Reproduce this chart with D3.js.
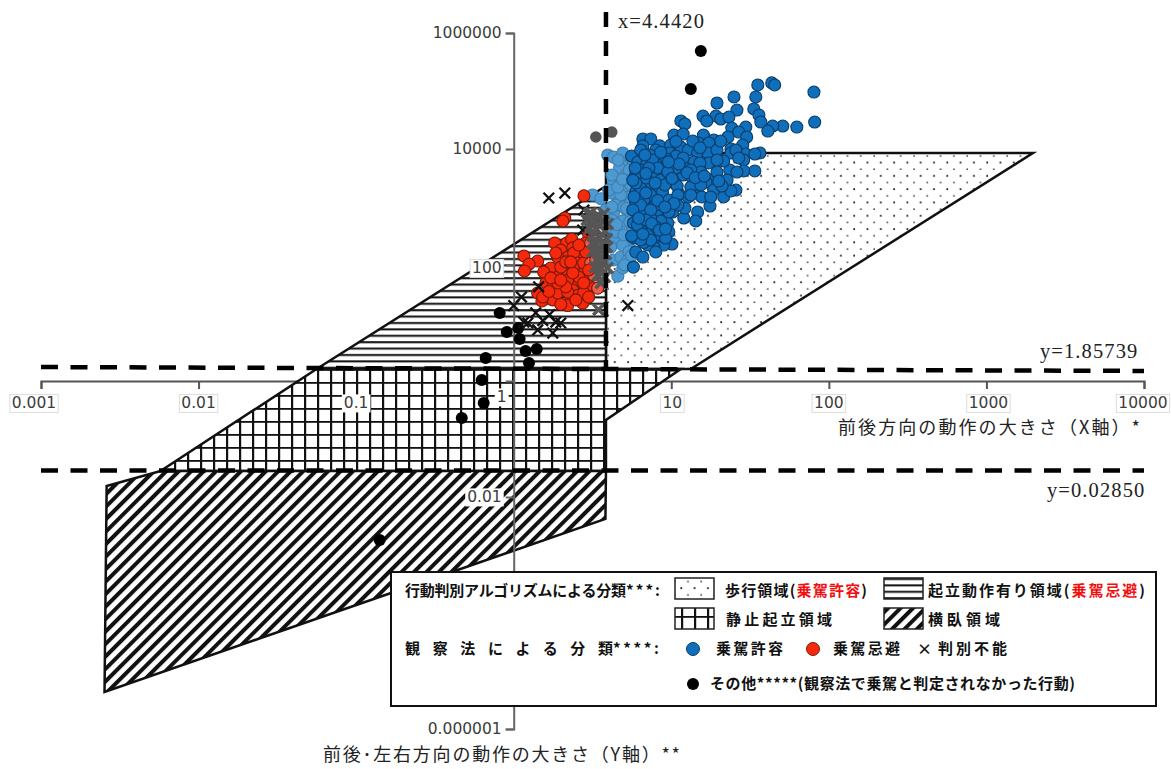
<!DOCTYPE html>
<html>
<head>
<meta charset="utf-8">
<script src="https://cdn.jsdelivr.net/npm/d3@7"></script>
<style>
body { margin: 0; background: #fff; }
text { font-family: "DejaVu Sans", sans-serif; }
.ja { font-family: "Noto Sans CJK JP", sans-serif; }
.serif { font-family: "Liberation Serif", serif; }
</style>
</head>
<body>
<div id="chart-area"></div>
<script>
// axis ticks
var xTicks = [0.001, 0.01, 0.1, 1, 10, 100, 1000, 10000];
var xTickLabels = ["0.001", "0.01", "0.1", "1", "10", "100", "1000", "10000"];
var yTicks = [1000000, 10000, 100, 1, 0.01, 0.0001, 0.000001];
var yTickLabels = ["1000000", "10000", "100", "", "0.01", "", "0.000001"];

// threshold lines as drawn in the figure
var thresholdX = 3.85;
var upperLineY = [1.74, 1.49];
var lowerLineY = [0.0285, 0.0285];

// behaviour regions [x, y]
var walkRegion = [[3.85, 8530], [1973, 8530], [13.3, 1.61], [3.85, 1.61]];
var riseRegion = [[0.0561, 1.61], [3.85, 2302], [3.85, 1.61]];
var stillRegion = [[0.0561, 1.61], [11.5, 1.61], [3.85, 0.213], [3.85, 0.0281], [0.00574, 0.0281]];
var lieRegion = [[0.00261, 0.0155], [0.00574, 0.0281], [3.85, 0.0281], [3.82, 0.00418], [0.00253, 0.00000435]];

// observation: rideable (blue)
var blue = [
[43.4,138000],[45.3,127000],[35.4,127000],[80.4,96000],[34.4,78900],[25,78900],[19.5,62100],[26.1,47000],
[33.4,49000],[36,38600],[37,29200],[15.9,37000],[19.2,37000],[20.6,32900],[23.2,35600],[16.8,30400],
[24.2,23000],[29.7,23900],[26.8,19600],[30.1,16100],[22.9,16100],[11.5,30400],[12.2,27000],[81.3,29200],
[62.6,23900],[51,24900],[44,24900],[41,20400],[10.4,17400],[11.9,18100],[16,17400],[18.6,14300],
[6.6,14900],[7.41,14900],[6.6,11300],[8.45,11300],[9.92,11700],[11.5,10800],[14.9,12700],[17.3,12700],
[28.4,11700],[23.9,10000],[29.7,8200],[23.9,8530],[36.5,8530],[33.9,8200],[28.8,6460],[33.9,4180],
[28.8,4180],[23.5,4350],[26.1,4010],[20.6,6460],[21.5,6210],[7.97,9610],[7.3,7880],[9.8,8530],
[10.7,7570],[12.8,9610],[14.7,8530],[17.1,8530],[13.9,5970],[17.3,5740],[15.2,5740],[5.6,7570],
[6.13,5970],[7,5740],[8.3,6210],[8.7,5300],[9.1,3860],[11.9,3560],[13.5,3290],[18.6,3040],
[16.6,2700],[14.7,2300],[10.5,2590],[8.3,2210],[7,2210],[5.95,1820],[7.2,1490],[8.8,1820],
[11.2,1680],[13.7,1740],[15.6,1490],[18.6,1960],[21.5,1490],[25.7,1960],[23.9,1890],[17.6,1040],
[14.7,820],[14.3,574],[12,646],[8.95,789],[7.75,1000],[5.95,1170],[6.13,728],[8.95,530],
[6.8,452],[9.65,371],[8.2,292],[7.1,316],[10.1,230],[8.95,221],[7.6,213],[5.95,168],
[6.6,137],[5.75,92],[7.75,204],[7.1,221],[7.41,356],[5.75,530],[6.7,789],[8.2,888],[9.5,530],
[6.4,4350],[7.6,3560],[9.65,4700],[12.2,4700],[15.4,4010],[19.5,4010],[22.6,2920],[21,2300],
[6.9,3160],[8.57,2920],[13.3,2210],[7.6,6460],[9.35,6730],[11.9,7000],[13.7,13700],[8.57,8800],
[6.4,9610],[13.3,4350],[10.7,4700],[10.9,2300],[9.1,2400],[7.4,1610],[6.4,2090],[7.97,1080],
[6.7,1320],[9.65,1320],[12.2,960],[10.2,820],[8.57,574],[7.4,646],[6.4,401],[7.97,452],
[5.85,292],[6.7,245],[6.1,490],[15.4,2400],[12.8,1490],[17.8,1490],[8.2,4700],[7.2,4700],
[5.95,3560],[5.95,2590],[6.8,7880],[11,1610],[8.57,329],[7.4,270],[7.97,168],[9.2,292],
[10.7,13500],[15.2,10500],[19.5,9610],[20.6,13700],[25.7,9610],[26.8,7000],[19.5,6460],[9.5,4010],
[6.4,1080],[7.41,888],[6.9,597],[9.65,820],[11,1080],[13.3,1610],[6.4,270],[5.6,316],
[5.9,4700],[5.7,2900],[5.8,1500],[5.7,890],[6.2,640],[6.9,3800],[7.9,2600],[10.1,3100],
[12.6,3900],[14.2,3200],[16.2,3400],[20,2800],[11.2,5500],[9.6,6000],[6.9,1750],[8.2,1300],
[10.4,1150],[9.1,1000],[7.5,520],[8.4,400],[6.6,340],[9.2,420]
];
// same class next to the threshold, washed out in the figure
var blueLight = [
[3.95,7880],[4.3,7280],[4.92,8530],[5.3,5300],[4.7,4700],[4.3,2590],[4.92,2590],[5.15,1820],
[4.58,1320],[4.13,1740],[5.4,1490],[3.17,1610],[3.57,1390],[4.3,789],[5.3,789],[4.78,452],
[4.44,270],[5.3,246],[4.13,401],[4.58,64],[4.92,89],[4.3,122],[4.78,137],[4.13,204],
[5.3,122],[5.53,728],[5.7,401],[5.53,2400],[4.78,1610],[4.44,1080],[3.84,888],[4.92,574],
[4.2,597],[5.53,181],[4.92,221],[4.44,371],[4,1960],[5,1000],[5.53,1170],[5.53,7000],
[4.6,6460],[4.2,3560],[5.15,3560],[4.58,2200],[5.7,6460],[5.4,4300],[5.6,3000],[4.9,3000],
[5.2,950],[5.45,560],[5,330],[5.4,170],[5.6,145],[5.05,100],[4.2,1000],[4.5,500]
];
// observation: avoid (red)
var red = [
[2.79,1560],[2.11,646],[2.05,574],[1.82,240],[2.17,240],[2.33,280],[1.16,143],[1.42,117],
[1.25,104],[1.17,79],[1.72,89],[1.99,181],[2.2,137],[2.62,132],[2.37,197],[1.9,137],
[2.99,329],[2.87,240],[3.08,161],[2.66,82],[2.2,79],[1.9,62],[1.64,62],[1.6,49],
[1.42,33],[1.51,24],[1.77,25],[2.05,37],[2.3,28],[2.2,20],[1.99,21],[2.74,22],
[2.99,45],[3.41,40],[2.59,42],[2.4,55],[2.95,60],[3.41,82],[3.22,67],[2.4,92],
[1.99,92],[1.77,42],[2.37,37],[1.9,33],[2.55,30],[2.78,33],[2.99,28],[2.2,55],
[2.59,62],[1.55,76],[1.53,28],[1.85,161],[2.14,113],[2.4,161],[2.55,108],[2.78,108],
[3.08,108],[3.32,122],[2.2,34],[2.14,42],[1.9,49],[1.72,60],[2.37,73],[2.78,49],
[2.99,82],[1.99,55],[2.3,113],[2.87,168],[2.59,221],[3.08,240],[3.17,401],[3.32,221],
[2.48,25],[1.67,35]
];
// observation: undecidable (x)
var cross = [
[1.67,1430],[2.11,1740],[1.12,28],[1,20],[1.44,42],[1.38,15],[1.69,14],[1.23,10],
[1.42,7.6],[1.99,10],[1.77,6.7],[1.16,10.4],[1.53,11],[1.85,10.4],[5.3,20],[2.79,888],[2.74,401]
];
// the dense grey patch of x marks
var crossGrey = [
[3.45,17],[3.57,49],[3.08,789],[3.41,728],[3.74,770],[2.91,597],[3.27,574],[3.62,574],
[3.95,510],[3.03,430],[3.36,415],[3.79,382],[3.17,316],[3.52,292],[3.9,280],[3.32,230],
[3.68,213],[3.17,173],[3.45,161],[3.84,155],[3.36,122],[3.74,113],[3.27,92],[3.57,85],
[3.95,89],[3.41,67],[3.79,62],[2.99,750],[3.2,646],[3.52,490],[3.17,240],[3.9,204],
[3.52,132],[3.13,574]
];
// other behaviours (black)
var other = [
[15.4,490000],[13.3,108000],[0.815,14.9],[0.903,7],[1.07,8.2],[1.09,5.3],[1.19,3.3],
[1.4,3.56],[1.25,2.04],[0.664,2.49],[0.627,1.04],[0.645,0.417],[0.468,0.23],[0.141,0.00182]
];
var otherGrey = [[3.32,16100],[4.19,19600]];

var width = 1171, height = 769;

var x = d3.scaleLog().domain([0.001, 10000]).range([41, 1144]);
var y = d3.scaleLog().domain([0.000001, 1000000]).range([729, 33]);

var svg = d3.select("#chart-area")
    .append("svg")
        .attr("width", width)
        .attr("height", height)
        .style("display", "block");

// hatch patterns
var defs = svg.append("defs");

var pDots = defs.append("pattern").attr("id", "dots")
    .attr("patternUnits", "userSpaceOnUse").attr("width", 13.3).attr("height", 13.3);
pDots.append("rect").attr("width", 13.3).attr("height", 13.3).attr("fill", "#fff");
pDots.append("circle").attr("cx", 3).attr("cy", 3).attr("r", 1).attr("fill", "#222");
pDots.append("circle").attr("cx", 9.65).attr("cy", 9.65).attr("r", 0.9).attr("fill", "#444");

var pLines = defs.append("pattern").attr("id", "hlines")
    .attr("patternUnits", "userSpaceOnUse").attr("width", 10).attr("height", 6.4);
pLines.append("rect").attr("width", 10).attr("height", 6.4).attr("fill", "#fff");
pLines.append("rect").attr("y", 2).attr("width", 10).attr("height", 2).attr("fill", "#111");

var pGrid = defs.append("pattern").attr("id", "grid")
    .attr("patternUnits", "userSpaceOnUse").attr("width", 13).attr("height", 13);
pGrid.append("rect").attr("width", 13).attr("height", 13).attr("fill", "#fff");
pGrid.append("rect").attr("x", 5).attr("width", 2.2).attr("height", 13).attr("fill", "#111");
pGrid.append("rect").attr("y", 5).attr("width", 13).attr("height", 1.8).attr("fill", "#111");

var pDiag = defs.append("pattern").attr("id", "diag")
    .attr("patternUnits", "userSpaceOnUse").attr("width", 8.8).attr("height", 8.8)
    .attr("patternTransform", "rotate(45)");
pDiag.append("rect").attr("width", 8.8).attr("height", 8.8).attr("fill", "#fff");
pDiag.append("rect").attr("width", 4).attr("height", 8.8).attr("fill", "#111");

// x axis goes under the regions
var xAxisCall = d3.axisBottom(x)
    .tickValues(xTicks)
    .tickSize(8)
    .tickFormat(function(d, i){ return ""; });

svg.append("g")
    .attr("class", "x axis")
    .attr("transform", "translate(0," + y(1) + ")")
    .call(xAxisCall)
    .call(function(g){
        g.selectAll("line,path").attr("stroke", "#555").attr("stroke-width", 2);
    });

// regions
var line = d3.line()
    .x(function(d){ return x(d[0]); })
    .y(function(d){ return y(d[1]); })
    .curve(d3.curveLinearClosed);

var regions = [
    { pts: walkRegion, fill: "url(#dots)" },
    { pts: riseRegion, fill: "url(#hlines)" },
    { pts: stillRegion, fill: "url(#grid)" },
    { pts: lieRegion, fill: "url(#diag)" }
];

svg.selectAll("path.region")
    .data(regions)
    .enter()
    .append("path")
        .attr("class", "region")
        .attr("d", function(d){ return line(d.pts); })
        .attr("fill", function(d){ return d.fill; })
        .attr("stroke", "#111")
        .attr("stroke-width", 2.5)
        .attr("stroke-linejoin", "miter");

// y axis runs over the regions
var yAxisCall = d3.axisLeft(y)
    .tickValues(yTicks)
    .tickSize(8)
    .tickFormat(function(){ return ""; });

svg.append("g")
    .attr("class", "y axis")
    .attr("transform", "translate(" + x(1) + ",0)")
    .call(yAxisCall)
    .call(function(g){
        g.selectAll("line,path").attr("stroke", "#666").attr("stroke-width", 2);
    });

// tick labels, on white boxes like the figure
var xLabelDx = [-7, 0, 0, -12, 1, 0, 2, -1];
var xLabelDy = [0, 0, 0, -6, 0, 0, 0, 0];

function boxedLabel(px, py, str, anchor, border) {
    var g = svg.append("g");
    var t = g.append("text")
        .attr("x", px)
        .attr("y", py)
        .attr("dy", "0.35em")
        .attr("text-anchor", anchor)
        .attr("font-size", "15.5px")
        .attr("fill", "#3c3c3c")
        .text(str);
    var b = t.node().getBBox();
    g.insert("rect", "text")
        .attr("x", b.x - 2)
        .attr("y", b.y)
        .attr("width", b.width + 4)
        .attr("height", b.height)
        .attr("fill", "#fff")
        .attr("stroke", border ? "#dcdcdc" : "none");
}

var dashY = "17 12.5";

// threshold lines
svg.append("line")
    .attr("x1", x(0.001)).attr("x2", x(10000))
    .attr("y1", y(upperLineY[0])).attr("y2", y(upperLineY[1]))
    .attr("stroke", "#000").attr("stroke-width", 4.5).attr("stroke-dasharray", dashY);
svg.append("line")
    .attr("x1", x(0.001)).attr("x2", x(10000))
    .attr("y1", y(lowerLineY[0])).attr("y2", y(lowerLineY[1]))
    .attr("stroke", "#000").attr("stroke-width", 4.5).attr("stroke-dasharray", dashY);

xTicks.forEach(function(d, i){
    boxedLabel(x(d) + xLabelDx[i], 403 + xLabelDy[i], xTickLabels[i], "middle", i != 2 && i != 3);
});
yTicks.forEach(function(d, i){
    if (yTickLabels[i] == "") return;
    var shift = (i == 2) ? 3 : (i == 4 ? 0 : 0);
    boxedLabel(x(1) - 12, y(d) + shift, yTickLabels[i], "end", i == 2);
});

// points
var dotR = 6;

svg.selectAll("circle.light")
    .data(blueLight)
    .enter()
    .append("circle")
        .attr("class", "light")
        .attr("cx", function(d){ return x(d[0]); })
        .attr("cy", function(d){ return y(d[1]); })
        .attr("r", dotR)
        .attr("fill", "#4d9ad2")
        .attr("stroke", "#3f7fad")
        .attr("stroke-width", 1.1);

svg.selectAll("circle.blue")
    .data(blue)
    .enter()
    .append("circle")
        .attr("class", "blue")
        .attr("cx", function(d){ return x(d[0]); })
        .attr("cy", function(d){ return y(d[1]); })
        .attr("r", dotR)
        .attr("fill", "#0f6fbb")
        .attr("stroke", "#0b3d6b")
        .attr("stroke-width", 1.1);

svg.selectAll("circle.red")
    .data(red)
    .enter()
    .append("circle")
        .attr("class", "red")
        .attr("cx", function(d){ return x(d[0]); })
        .attr("cy", function(d){ return y(d[1]); })
        .attr("r", dotR)
        .attr("fill", function(d){ return d[0] > 3 ? "#f25a4a" : "#f7290d"; })
        .attr("stroke", "#7a1a0a")
        .attr("stroke-width", 1.1);

svg.selectAll("circle.other")
    .data(other)
    .enter()
    .append("circle")
        .attr("class", "other")
        .attr("cx", function(d){ return x(d[0]); })
        .attr("cy", function(d){ return y(d[1]); })
        .attr("r", 6)
        .attr("fill", "#000");

svg.selectAll("circle.otherGrey")
    .data(otherGrey)
    .enter()
    .append("circle")
        .attr("class", "otherGrey")
        .attr("cx", function(d){ return x(d[0]); })
        .attr("cy", function(d){ return y(d[1]); })
        .attr("r", 5.8)
        .attr("fill", "#555");

function drawCross(sel, color, sw) {
    var s = 5.3;
    sel.append("path")
        .attr("d", function(d){
            var px = x(d[0]), py = y(d[1]);
            return "M" + (px - s) + "," + (py - s) + "L" + (px + s) + "," + (py + s) +
                "M" + (px - s) + "," + (py + s) + "L" + (px + s) + "," + (py - s);
        })
        .attr("stroke", color)
        .attr("stroke-width", sw)
        .attr("fill", "none");
}

drawCross(svg.selectAll("path.cross").data(cross).enter(), "#111", 2.3);
drawCross(svg.selectAll("path.crossGrey").data(crossGrey).enter(), "#565656", 3.4);

// vertical threshold on top of the points
svg.append("line")
    .attr("x1", x(thresholdX)).attr("x2", x(thresholdX))
    .attr("y1", 12).attr("y2", y(1.61))
    .attr("stroke", "#000").attr("stroke-width", 4.5).attr("stroke-dasharray", "15 14");

// threshold labels
[["x=4.4420", 618, 28], ["y=1.85739", 1040, 358], ["y=0.02850", 1047, 497]].forEach(function(d){
    svg.append("text")
        .attr("class", "serif")
        .attr("x", d[1])
        .attr("y", d[2])
        .attr("font-size", "20.5px")
        .attr("letter-spacing", "1.1px")
        .attr("fill", "#222")
        .text(d[0]);
});

// axis titles
svg.append("text")
    .attr("class", "ja")
    .attr("x", 838).attr("y", 434)
    .attr("font-size", "18px").attr("fill", "#222")
    .attr("textLength", 302).attr("lengthAdjust", "spacing")
    .text("前後方向の動作の大きさ（X軸）*");
svg.append("text")
    .attr("class", "ja")
    .attr("x", 323).attr("y", 761)
    .attr("font-size", "18px").attr("fill", "#222")
    .attr("textLength", 357).attr("lengthAdjust", "spacing")
    .text("前後･左右方向の動作の大きさ（Y軸）**");

// legend
var legend = svg.append("g");
legend.append("rect")
    .attr("x", 391).attr("y", 572)
    .attr("width", 765).attr("height", 134)
    .attr("fill", "#fff")
    .attr("stroke", "#111")
    .attr("stroke-width", 2);

function legendText(px, py, parts, len) {
    var t = legend.append("text")
        .attr("class", "ja")
        .attr("x", px).attr("y", py)
        .attr("font-size", "15px")
        .attr("font-weight", "700")
        .attr("fill", "#111");
    if (len) t.attr("textLength", len).attr("lengthAdjust", "spacing");
    parts.forEach(function(p){
        t.append("tspan")
            .attr("fill", p[1] || "#111")
            .text(p[0]);
    });
}

function swatch(px, py, fill) {
    legend.append("rect")
        .attr("x", px).attr("y", py)
        .attr("width", 39).attr("height", 21)
        .attr("fill", fill)
        .attr("stroke", "#222")
        .attr("stroke-width", 1.5);
}

legendText(405, 596, [["行動判別アルゴリズムによる分類"]], 221);
legendText(626, 596, [["***:"]], 34);
swatch(675, 578, "url(#dots)");
legendText(725, 596, [["歩行領域("], ["乗駕許容", "#f01010"], [")"]], 142);
swatch(884, 578, "url(#hlines)");
legendText(928, 596, [["起立動作有り領域("], ["乗駕忌避", "#f01010"], [")"]], 217);

swatch(675, 608, "url(#grid)");
legendText(726, 625, [["静止起立領域"]], 106);
swatch(884, 608, "url(#diag)");
legendText(928, 625, [["横臥領域"]], 72);

legendText(405, 654, [["観察法による分類"]], 208);
legendText(613, 654, [["****:"]], 46);
legend.append("circle").attr("cx", 693).attr("cy", 649).attr("r", 6.5)
    .attr("fill", "#0f6fbb").attr("stroke", "#0b3d6b");
legendText(716, 654, [["乗駕許容"]], 67);
legend.append("circle").attr("cx", 813).attr("cy", 649).attr("r", 6.5)
    .attr("fill", "#f7290d").attr("stroke", "#7a1a0a");
legendText(833, 654, [["乗駕忌避"]], 67);
legendText(917, 655, [["×"]]);
legendText(938, 654, [["判別不能"]], 69);

legend.append("circle").attr("cx", 693).attr("cy", 684).attr("r", 6)
    .attr("fill", "#000");
legendText(710, 689, [["その他*****(観察法で乗駕と判定されなかった行動)"]], 365);
</script>
</body>
</html>
